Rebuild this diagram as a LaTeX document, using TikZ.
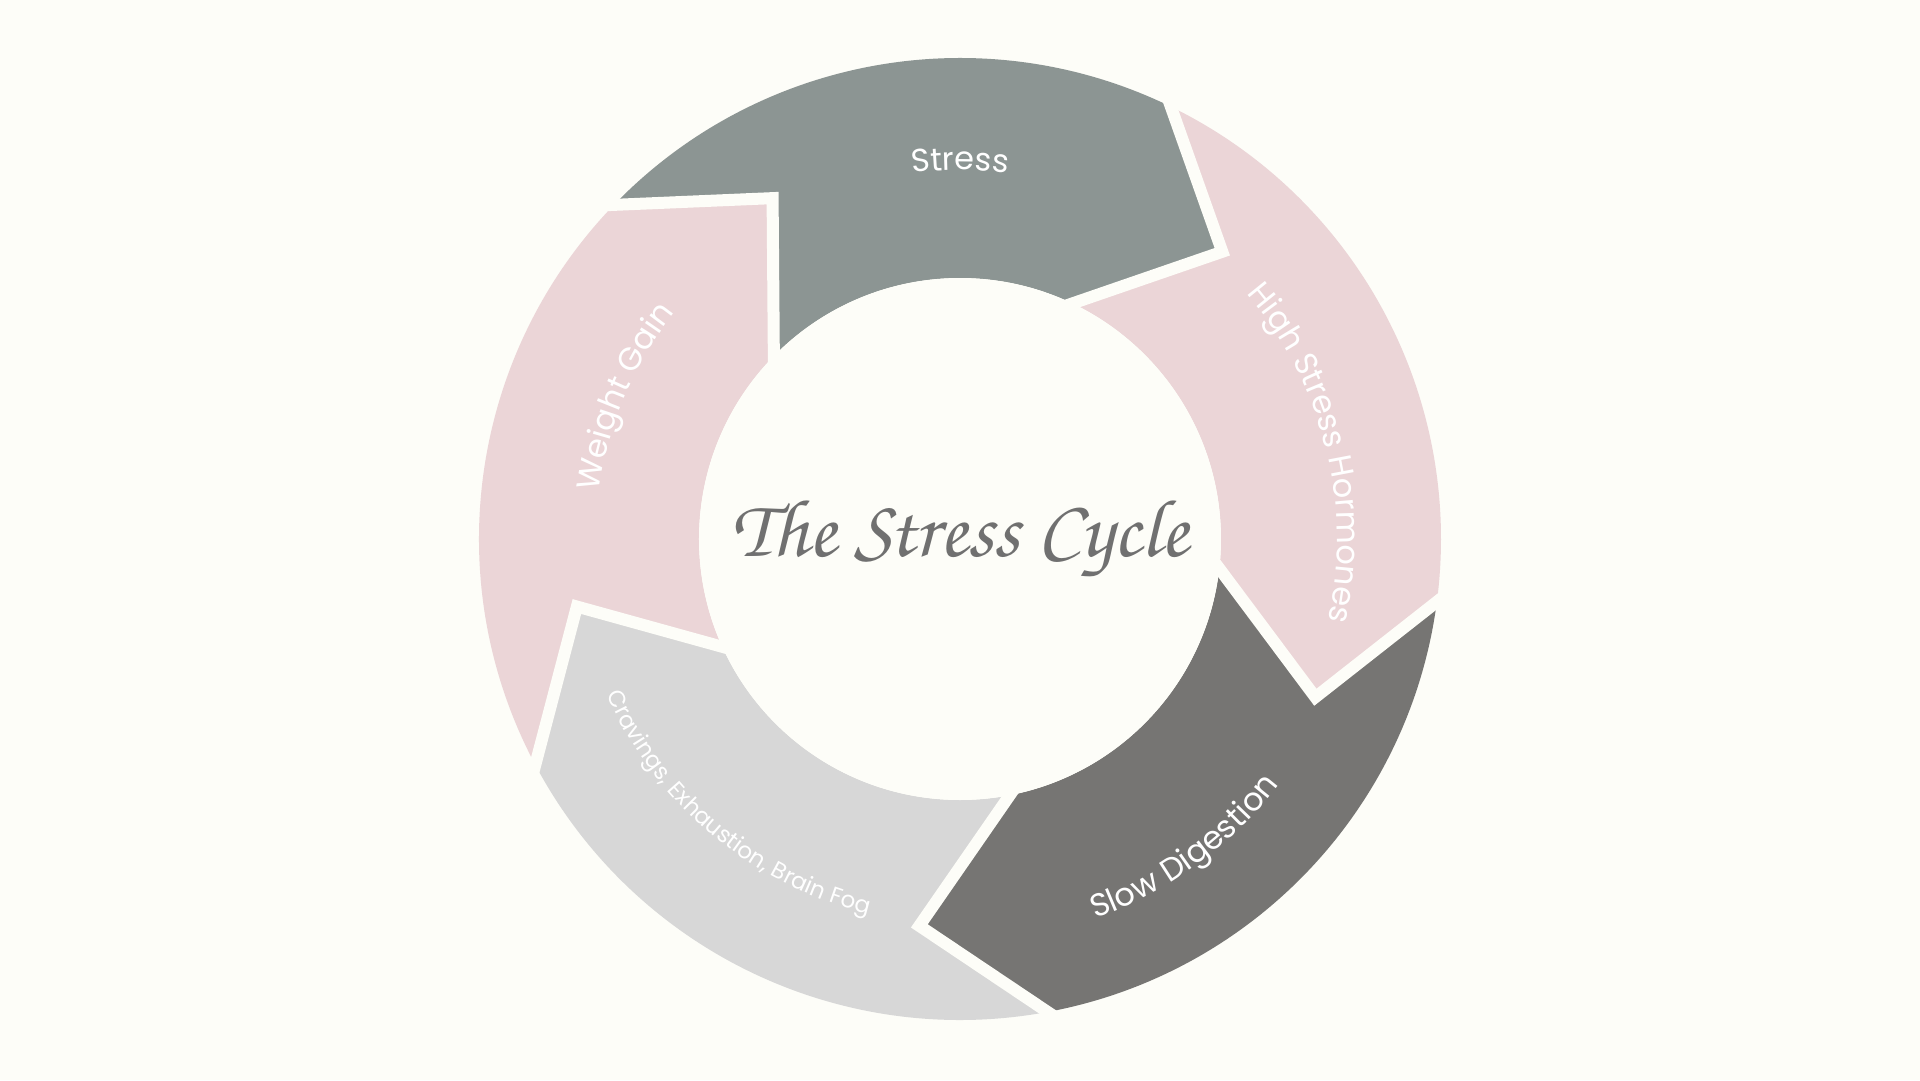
\documentclass[tikz,border=0pt]{standalone}
\usepackage{fontspec}
\setmainfont{Poppins}
\newfontfamily\titlehand{texgyrechorus-mediumitalic.otf}
\usetikzlibrary{calc,decorations.text}
\definecolor{bgcol}{RGB}{253,253,248}
\definecolor{stresscol}{RGB}{140,149,147}
\definecolor{pinkcol}{RGB}{235,213,215}
\definecolor{darkcol}{RGB}{118,117,115}
\definecolor{lightcol}{RGB}{215,215,215}
\definecolor{titlecol}{RGB}{112,112,112}
\newcommand\seglabelfont{\fontsize{32}{32}\selectfont}
\newcommand\smalllabelfont{\fontsize{23}{23}\selectfont}
\tikzstyle{gap}=[draw=bgcol,line width=12pt,line join=miter]
\tikzstyle{seglabel}=[decorate,decoration={text along path,text align=center,text color=white}]

\begin{document}
\begin{tikzpicture}[x=1pt,y=1pt]
\fill[bgcol] (-960,-541) rectangle (960,539);
\useasboundingbox (-960,-541) rectangle (960,539);
\fill[stresscol] (136:481) arc[start angle=136,end angle=64,radius=481pt] -- (47.6:389) -- (64.5:261) arc[start angle=64.5,end angle=135.5,radius=261pt] -- (118.8:389) -- cycle;
\fill[pinkcol] (64:481) arc[start angle=64,end angle=-7.5,radius=481pt] -- (-24:389) -- (-6.5:261) arc[start angle=-6.5,end angle=64.5,radius=261pt] -- (47.6:389) -- cycle;
\fill[darkcol] (-7.5:481) arc[start angle=-7.5,end angle=-79.5,radius=481pt] -- (-96:389) -- (-79:261) arc[start angle=-79,end angle=-6.5,radius=261pt] -- (-24:389) -- cycle;
\fill[lightcol] (-79.5:481) arc[start angle=-79.5,end angle=-152,radius=481pt] -- (-170:389) -- (-155.6:261) arc[start angle=-155.6,end angle=-79,radius=261pt] -- (-96:389) -- cycle;
\fill[pinkcol] (-152:481) arc[start angle=-152,end angle=-224,radius=481pt] -- (-241.2:389) -- (-224.5:261) arc[start angle=-224.5,end angle=-155.6,radius=261pt] -- (-170:389) -- cycle;
\draw[gap] ($(118.8:389)!1.12!(136:481)$) -- (118.8:389) -- ($(118.8:389)!1.12!(135.5:261)$);
\draw[gap] ($(47.6:389)!1.12!(64:481)$) -- (47.6:389) -- ($(47.6:389)!1.12!(64.5:261)$);
\draw[gap] ($(-24:389)!1.12!(-7.5:481)$) -- (-24:389) -- ($(-24:389)!1.12!(-6.5:261)$);
\draw[gap] ($(-96:389)!1.12!(-79.5:481)$) -- (-96:389) -- ($(-96:389)!1.12!(-79:261)$);
\draw[gap] ($(-170:389)!1.12!(-152:481)$) -- (-170:389) -- ($(-170:389)!1.12!(-155.6:261)$);
\fill[bgcol] (0,0) circle[radius=261pt];
\node[text=titlecol] (title) at (0,0) {\titlehand\fontsize{82}{82}\selectfont The Stress Cycle};
\path[seglabel,decoration={text={|\seglabelfont|Stress}}] (125:369) arc[start angle=125,end angle=55,radius=369pt];
\path[seglabel,decoration={text={|\seglabelfont|High Stress Hormones}}] (59:377) arc[start angle=59,end angle=-31,radius=377pt];
\path[seglabel,decoration={text={|\seglabelfont|Slow Digestion}}] (-99:403) arc[start angle=-99,end angle=-9,radius=403pt];
\path[seglabel,decoration={text={|\smalllabelfont|Cravings, Exhaustion, Brain Fog}}] (178:386) arc[start angle=178,end angle=282,radius=386pt];
\path[seglabel,decoration={text={|\seglabelfont|Weight Gain}}] (197:364) arc[start angle=197,end angle=117,radius=364pt];
\end{tikzpicture}
\end{document}
